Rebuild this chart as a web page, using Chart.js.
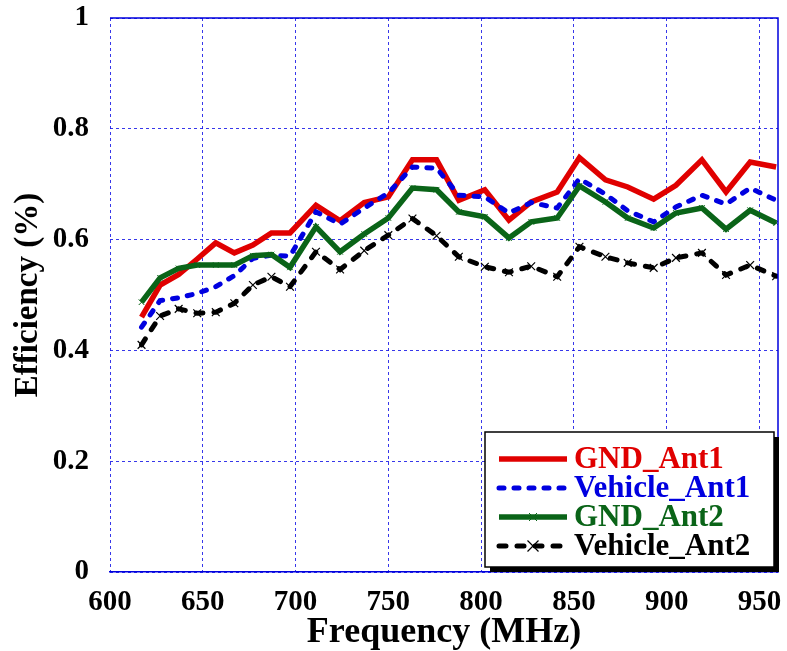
<!DOCTYPE html>
<html>
<head>
<meta charset="utf-8">
<title>Efficiency vs Frequency</title>
<script src="https://cdn.jsdelivr.net/npm/chart.js@4.4.1/dist/chart.umd.min.js"></script>
<style>
  html, body { margin: 0; padding: 0; background: #fff; }
  .chart-container { width: 787px; height: 651px; }
</style>
</head>
<body>
<div class="chart-container"><canvas id="myChart" width="787" height="651"></canvas></div>
<script>
"use strict";

//////////////////////////////
// Data
const freqs = [617, 627, 637, 647, 657, 667, 677, 687, 697, 711, 724, 737, 750, 763, 776,
  788, 802, 815, 827, 841, 853, 867, 879, 893, 905, 919, 932, 945, 959];

const gndAnt1 = [0.46, 0.518, 0.537, 0.565, 0.594, 0.576, 0.59, 0.612, 0.612, 0.662, 0.634,
  0.667, 0.677, 0.744, 0.744, 0.671, 0.69, 0.635, 0.668, 0.686, 0.748, 0.708, 0.695, 0.673,
  0.698, 0.744, 0.686, 0.74, 0.731];

const vehicleAnt1 = [0.442, 0.49, 0.495, 0.503, 0.515, 0.535, 0.566, 0.572, 0.57, 0.65, 0.628,
  0.657, 0.684, 0.731, 0.729, 0.68, 0.677, 0.648, 0.667, 0.657, 0.71, 0.682, 0.652, 0.632,
  0.659, 0.68, 0.664, 0.693, 0.671];

const gndAnt2 = [0.487, 0.531, 0.548, 0.554, 0.554, 0.554, 0.571, 0.573, 0.55, 0.623, 0.578,
  0.61, 0.639, 0.693, 0.69, 0.65, 0.641, 0.603, 0.632, 0.639, 0.697, 0.668, 0.639, 0.621,
  0.648, 0.657, 0.619, 0.653, 0.63];

const vehicleAnt2 = [0.41, 0.462, 0.475, 0.467, 0.469, 0.485, 0.518, 0.533, 0.515, 0.578, 0.546,
  0.58, 0.608, 0.638, 0.607, 0.569, 0.551, 0.541, 0.552, 0.533, 0.587, 0.569, 0.558, 0.549,
  0.567, 0.576, 0.536, 0.554, 0.534];

const freqTicks = [600, 650, 700, 750, 800, 850, 900, 950];
const effTicks = [0, 0.2, 0.4, 0.6, 0.8, 1];

//////////////////////////////
// Styles
const serif = "'Liberation Serif', 'Times New Roman', serif";
const gridBlue = "rgba(20, 20, 230, 0.85)";
const axisBlue = "#0000dd";

const toPoints = (ys) => ys.map((y, i) => ({ x: freqs[i], y: y }));

// axis box: solid top and right edges
const frameLines = {
  id: "frameLines",
  afterDatasetsDraw(chart) {
    const { ctx, chartArea } = chart;
    ctx.save();
    ctx.strokeStyle = axisBlue;
    ctx.lineWidth = 1.5;
    ctx.beginPath();
    ctx.moveTo(chartArea.left, chartArea.top);
    ctx.lineTo(chartArea.right, chartArea.top);
    ctx.lineTo(chartArea.right, chartArea.bottom);
    ctx.stroke();
    ctx.restore();
  },
};

// boxed legend with drop shadow in the lower right corner
const legendBox = {
  id: "legendBox",
  afterDraw(chart) {
    const { ctx, chartArea } = chart;
    const w = 289;
    const h = 135;
    const x = chartArea.right - w - 4;
    const y = chartArea.bottom - h - 5;

    ctx.save();
    ctx.fillStyle = "#000";
    ctx.fillRect(x + 5, y + 5, w, h);
    ctx.fillStyle = "#fff";
    ctx.fillRect(x, y, w, h);
    ctx.lineWidth = 1.5;
    ctx.strokeStyle = "#000";
    ctx.strokeRect(x, y, w, h);

    chart.data.datasets.forEach((ds, i) => {
      const rowY = y + 27 + i * 29;
      const x0 = x + 14;
      const x1 = x + 82;

      ctx.beginPath();
      ctx.setLineDash(ds.borderDash || []);
      ctx.lineCap = ds.borderCapStyle || "butt";
      ctx.lineWidth = ds.borderWidth;
      ctx.strokeStyle = ds.borderColor;
      ctx.moveTo(x0, rowY);
      ctx.lineTo(x1, rowY);
      ctx.stroke();
      ctx.setLineDash([]);
      ctx.lineCap = "butt";

      if (ds.pointRadius > 0) {
        const cx = (x0 + x1) / 2;
        const r = ds.pointRadius;
        ctx.beginPath();
        ctx.lineWidth = ds.pointBorderWidth;
        ctx.strokeStyle = ds.pointBorderColor;
        ctx.moveTo(cx - r, rowY - r);
        ctx.lineTo(cx + r, rowY + r);
        ctx.moveTo(cx - r, rowY + r);
        ctx.lineTo(cx + r, rowY - r);
        ctx.stroke();
      }

      ctx.fillStyle = ds.borderColor;
      ctx.font = "bold 31px " + serif;
      ctx.textBaseline = "middle";
      ctx.textAlign = "left";
      ctx.fillText(ds.label, x + 89, rowY + 1);
    });
    ctx.restore();
  },
};

//////////////////////////////
// Chart
const canvas = document.getElementById("myChart");
const ctx = canvas.getContext("2d");

new Chart(ctx, {
  type: "line",
  data: {
    datasets: [
      {
        label: "GND_Ant1",
        data: toPoints(gndAnt1),
        borderColor: "#e00000",
        borderWidth: 5.5,
        pointRadius: 0,
        order: 4,
      },
      {
        label: "Vehicle_Ant1",
        data: toPoints(vehicleAnt1),
        borderColor: "#0000e0",
        borderWidth: 5,
        borderDash: [5, 10],
        borderCapStyle: "round",
        pointRadius: 0,
        order: 3,
      },
      {
        label: "GND_Ant2",
        data: toPoints(gndAnt2),
        borderColor: "#0a6418",
        borderWidth: 5.5,
        pointStyle: "crossRot",
        pointRadius: 4,
        pointBorderWidth: 1,
        pointBorderColor: "#0a6418",
        order: 2,
      },
      {
        label: "Vehicle_Ant2",
        data: toPoints(vehicleAnt2),
        borderColor: "#000000",
        borderWidth: 5,
        borderDash: [7, 11],
        borderCapStyle: "round",
        pointStyle: "crossRot",
        pointRadius: 5.5,
        pointBorderWidth: 1.2,
        pointBorderColor: "#000000",
        order: 1,
      },
    ],
  },
  options: {
    responsive: false,
    animation: false,
    layout: { padding: { top: 18, right: 9, left: 0, bottom: 0 } },
    plugins: {
      legend: { display: false },
      tooltip: { enabled: false },
    },
    elements: { line: { tension: 0 } },
    scales: {
      x: {
        type: "linear",
        min: 600,
        max: 960,
        afterBuildTicks: (scale) => {
          scale.ticks = freqTicks.map((v) => ({ value: v }));
        },
        afterFit: (scale) => {
          scale.height = 79;
          scale.paddingLeft = 0;
          scale.paddingRight = 0;
        },
        grid: { color: gridBlue, lineWidth: 1, drawTicks: false },
        border: { display: true, color: axisBlue, width: 1.5, dash: [3, 3] },
        ticks: {
          color: "#000",
          font: { family: serif, size: 29, weight: "bold" },
          padding: 13,
          maxRotation: 0,
          autoSkip: false,
          callback: (v) => String(v),
        },
        title: {
          display: true,
          text: "Frequency (MHz)",
          color: "#000",
          font: { family: serif, size: 36, weight: "bold" },
          padding: { top: 4, bottom: -3 },
        },
      },
      y: {
        min: 0,
        max: 1,
        afterBuildTicks: (scale) => {
          scale.ticks = effTicks.map((v) => ({ value: v }));
        },
        afterFit: (scale) => {
          scale.width = 110;
          scale.paddingTop = 0;
          scale.paddingBottom = 0;
        },
        grid: { color: gridBlue, lineWidth: 1, drawTicks: false },
        border: { display: false, dash: [3, 3] },
        ticks: {
          color: "#000",
          font: { family: serif, size: 29, weight: "bold" },
          padding: 21,
          autoSkip: false,
          callback: (v) => String(v),
        },
        title: {
          display: true,
          text: "Efficiency (%)",
          color: "#000",
          font: { family: serif, size: 33, weight: "bold" },
          padding: { top: 9, bottom: 0 },
        },
      },
    },
  },
  plugins: [frameLines, legendBox],
});
</script>
</body>
</html>
